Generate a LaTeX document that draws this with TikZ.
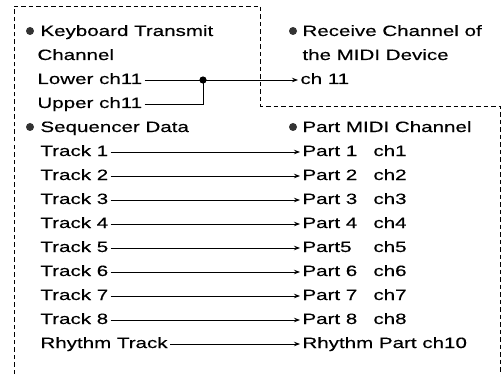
\documentclass[tikz,border=0pt]{standalone}
\usepackage{fontspec}
\setmainfont{Liberation Sans}[FakeStretch=1.37, FakeBold=0.3]
\usetikzlibrary{arrows.meta, positioning}

\begin{document}
\begin{tikzpicture}[x=1pt, y=-1pt, line width=0.9pt,
    lbl/.style={anchor=west, inner xsep=2pt, inner ysep=0pt, text height=10pt, text depth=2pt,
                font=\fontsize{15}{18}\selectfont},
    link/.style={-{Stealth[length=6pt, width=4.5pt]}},
    frame/.style={line width=0.7pt, dash pattern=on 4.5pt off 3pt}]
        \useasboundingbox (0,0) rectangle (502,374);

        % Outline
        \draw[frame] (14,374) -- (14,6) -- (260,6) -- (260,106) -- (500,106) -- (500,374);

        % Keyboard side
        \fill[black!80] (30,31) circle (4pt);
        \node[lbl] (kbd) at (38,32) {Keyboard Transmit};
        \node[lbl] (kbch) at (35,56) {Channel};
        \node[lbl] (lower) at (35,80) {Lower ch11};
        \node[lbl] (upper) at (35,104) {Upper ch11};

        % Receive side
        \fill[black!80] (293,31) circle (4pt);
        \node[lbl] (recv) at (300,32) {Receive Channel of};
        \node[lbl] (midi) at (300,56) {the MIDI Device};
        \node[lbl] (ch11) at (298,80) {ch 11};

        % Junction
        \coordinate (jn) at (203,80);
        \fill (jn) circle (3.6pt);
        \draw (lower.east) -- (jn);
        \draw (upper.east) -| (jn);
        \draw[link] (jn) -- (ch11.west);

        % Sequencer data
        \fill[black!80] (30,127) circle (4pt);
        \node[lbl] (seq) at (38,128) {Sequencer Data};
        \node[lbl] (t1) at (38,152) {Track 1};
        \node[lbl] (t2) at (38,176) {Track 2};
        \node[lbl] (t3) at (38,200) {Track 3};
        \node[lbl] (t4) at (38,224) {Track 4};
        \node[lbl] (t5) at (38,248) {Track 5};
        \node[lbl] (t6) at (38,272) {Track 6};
        \node[lbl] (t7) at (38,296) {Track 7};
        \node[lbl] (t8) at (38,320) {Track 8};
        \node[lbl] (tr) at (38,344) {Rhythm Track};

        % Part MIDI channels
        \fill[black!80] (293,127) circle (4pt);
        \node[lbl] (pmc) at (300,128) {Part MIDI Channel};
        \node[lbl] (p1) at (300,152) {\makebox[71pt][l]{Part 1}ch1};
        \node[lbl] (p2) at (300,176) {\makebox[71pt][l]{Part 2}ch2};
        \node[lbl] (p3) at (300,200) {\makebox[71pt][l]{Part 3}ch3};
        \node[lbl] (p4) at (300,224) {\makebox[71pt][l]{Part 4}ch4};
        \node[lbl] (p5) at (300,248) {\makebox[71pt][l]{Part5}ch5};
        \node[lbl] (p6) at (300,272) {\makebox[71pt][l]{Part 6}ch6};
        \node[lbl] (p7) at (300,296) {\makebox[71pt][l]{Part 7}ch7};
        \node[lbl] (p8) at (300,320) {\makebox[71pt][l]{Part 8}ch8};
        \node[lbl] (pr) at (300,344) {Rhythm Part ch10};

        \draw[link] (t1) -- (p1);
        \draw[link] (t2) -- (p2);
        \draw[link] (t3) -- (p3);
        \draw[link] (t4) -- (p4);
        \draw[link] (t5) -- (p5);
        \draw[link] (t6) -- (p6);
        \draw[link] (t7) -- (p7);
        \draw[link] (t8) -- (p8);
        \draw[link] (tr) -- (pr);

    \end{tikzpicture}
\end{document}
